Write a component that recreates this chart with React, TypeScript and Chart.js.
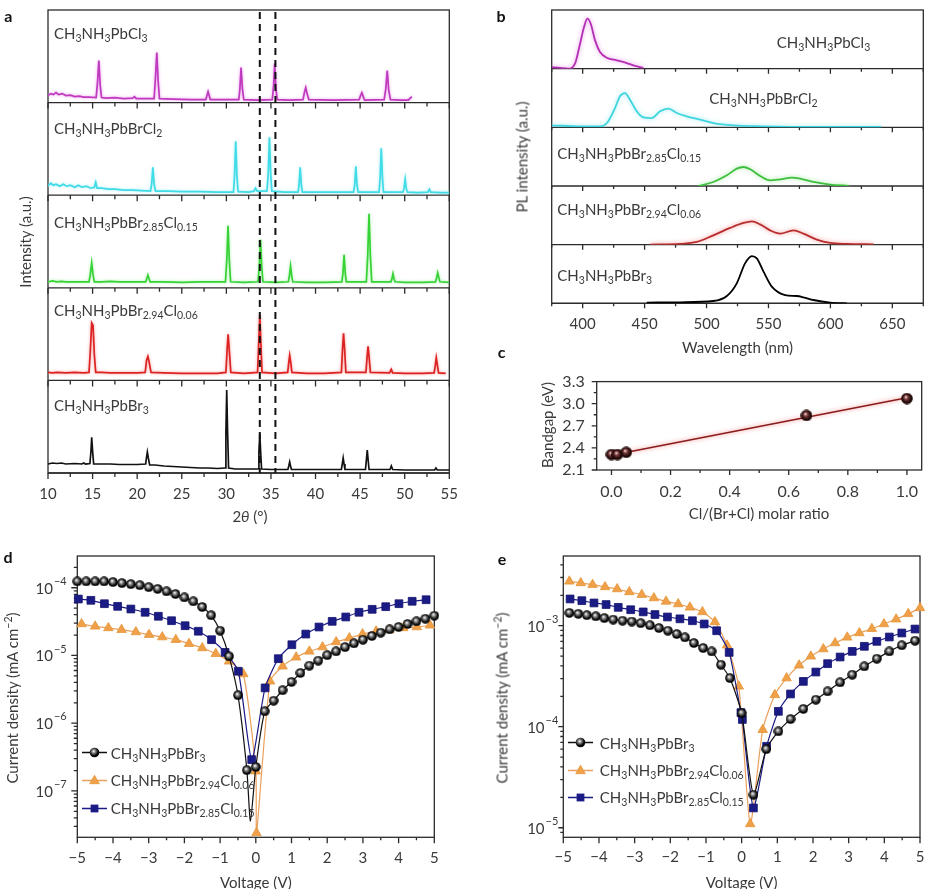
import React, { useEffect, useRef } from 'react';
import { Chart, registerables } from 'chart.js';

Chart.register(...registerables);

type P = [number, number];

// ================= Panel a : XRD (2theta, intensity a.u.) =================
const xrdRange = [10, 55];
const xrdTicks = [10, 15, 20, 25, 30, 35, 40, 45, 50, 55];
const xrdMinorTicks = [12.5, 17.5, 22.5, 27.5, 32.5, 37.5, 42.5, 47.5, 52.5];
const xrdDashed = [33.75, 35.5];
const xrdCl3: P[] = [[10,7],[10.3,9],[10.6,8],[10.9,10],[11.2,8],[11.6,9],[12,7],[12.5,7.5],[13,6],[13.5,6.5],[14,5.5],[14.6,5.5],[15.4,5],[15.55,20],[15.7,42],[15.85,18],[16,5],[16.5,4.5],[17.5,5],[18.5,4],[19.5,4.5],[19.7,6],[19.9,4],[21,4],[21.9,4],[22.05,25],[22.2,50],[22.35,22],[22.5,4],[24,3.5],[26,3],[27.7,3],[27.95,11],[28.2,3],[30,3],[31.4,3],[31.52,14],[31.65,35],[31.8,14],[31.95,3],[33.5,2.5],[35.15,3],[35.3,17],[35.42,39],[35.55,15],[35.7,3],[37,2.5],[38.6,3],[38.75,10],[38.9,15],[39.05,9],[39.25,3],[42,2.5],[44.9,3],[45.05,7],[45.2,10],[45.35,6],[45.5,2.5],[47.7,3],[47.88,14],[48.04,32],[48.2,13],[48.4,3],[49.5,2.5],[50.4,2.5],[50.8,6]];
const xrdBrCl2: P[] = [[10,9],[10.3,12],[10.6,10],[10.9,11],[11.3,9],[11.7,11],[12.1,9],[12.5,10],[13,8],[13.4,10],[13.8,8],[14.3,9],[14.8,7],[15.2,8],[15.35,13],[15.5,7],[16,7],[16.8,6],[17.5,6],[18.5,5],[19.5,5],[20.5,4.5],[21.5,4],[21.63,12],[21.76,28],[21.9,11],[22.05,4],[23.5,4],[25,3.5],[27,3.5],[29,3],[30.8,3],[30.92,20],[31.05,54],[31.18,20],[31.32,3.5],[32.5,3],[33.1,4],[33.27,7],[33.45,4],[34.55,4],[34.7,22],[34.83,58],[34.97,22],[35.1,4],[36.5,3],[38.05,3],[38.16,11],[38.28,28],[38.4,11],[38.52,3],[40,3],[42,3],[44.27,3],[44.4,11],[44.52,29],[44.64,11],[44.78,3],[46,3],[47.12,3],[47.25,18],[47.37,47],[47.5,18],[47.62,3],[49.8,3],[49.93,7],[50.05,16],[50.17,7],[50.3,3],[51.5,2.5],[52.6,3],[52.76,6],[52.92,3],[54,2.5],[55,2.5]];
const xrdBr285Cl015: P[] = [[10,6],[10.5,7],[11,6],[11.5,6.5],[12,6],[13,6],[14,6],[14.6,6],[14.75,14],[14.9,25],[15.05,13],[15.2,6],[16,6],[17,6.5],[18,6],[19,6],[20,6],[20.95,6],[21.07,9],[21.2,12.7],[21.33,9],[21.45,6],[23,6],[25,5.5],[27,6],[29,6],[29.9,6],[30.05,28],[30.19,62],[30.33,28],[30.48,6],[32,5.5],[33.55,6],[33.7,22],[33.83,48],[33.96,22],[34.1,6],[35.5,5.5],[36.95,6],[37.07,12],[37.2,22],[37.33,12],[37.45,6],[39,5.5],[41,5.5],[42.95,6],[43.08,15],[43.2,33],[43.33,15],[43.45,6],[45.7,6],[45.85,32],[46,74],[46.15,32],[46.3,6],[48.45,6],[48.57,9],[48.68,14],[48.8,9],[48.92,6],[50,5.5],[52,5.5],[53.45,6],[53.58,10],[53.7,15],[53.83,10],[53.95,6],[55,5.5]];
const xrdBr294Cl006: P[] = [[10,8],[10.5,7.5],[11,8],[12,7.5],[13,8],[14,7.5],[14.6,8],[14.75,30],[14.9,57.5],[15.05,55],[15.2,25],[15.35,8],[16,8],[17,7.5],[18,7.5],[19,7.5],[20,7.5],[20.9,8],[21.05,20],[21.2,24],[21.35,18],[21.55,8],[23,7.5],[25,7],[27,7],[29,7],[29.95,8],[30.08,30],[30.2,46],[30.33,30],[30.5,8],[32,7],[33.5,8],[33.62,35],[33.75,65],[33.88,35],[34,8],[35.5,7],[36.88,8],[37,18],[37.1,25],[37.22,18],[37.35,8],[39,7],[41,7],[42.9,8],[43.02,30],[43.14,47],[43.27,30],[43.4,8],[45.65,8],[45.77,22],[45.89,34],[46.02,22],[46.15,8],[48.3,7.5],[48.49,11],[48.65,7.5],[50,7],[52,7],[53.3,7.5],[53.43,15],[53.54,22.7],[53.67,15],[53.8,7.5],[54.6,7]];
const xrdBr3: P[] = [[10,9],[10.5,10],[11,9.5],[11.5,10],[12,9],[13,9.5],[13.8,9],[14,10],[14.2,9],[14.7,9.5],[14.82,22],[14.9,35.7],[15,22],[15.12,9],[16,9],[17,9],[18,8.5],[19,8.5],[20,8.5],[20.95,9],[21.05,16],[21.14,21],[21.25,15],[21.4,8],[22,8],[23,7],[24,6.5],[25,6],[26,5.5],[27,5],[28,5],[29,4.5],[29.85,5],[29.95,40],[30.04,83],[30.14,40],[30.25,5],[31,4],[32,4],[33.55,4],[33.65,20],[33.75,39],[33.85,20],[33.95,4],[35,3.5],[36.9,3.5],[37,7],[37.1,11],[37.2,7],[37.3,3.5],[39,3.5],[41,3.5],[42.9,3.5],[43,9],[43.1,15],[43.2,9],[43.3,3.5],[45.6,3.5],[45.7,13],[45.8,23],[45.9,13],[46,3.5],[48.35,3.5],[48.5,7],[48.65,3.5],[50,3],[52,3],[53.35,3],[53.5,5],[53.65,3],[55,3]];
const xrdMax = 92.6;

// ================= Panel b : PL (wavelength nm, intensity a.u.) =================
const plRange = [375, 675];
const plTicks = [400, 450, 500, 550, 600, 650];
const plMinorTicks = [375, 425, 475, 525, 575, 625, 675];
const plCl3: P[] = [[375,1.6],[381.7,0.7],[388.4,0],[393.8,5],[397.9,25],[401.1,41.6],[403.8,50],[406.5,45],[410,28.3],[414,16.7],[419.4,11],[427.5,8.3],[435.6,5.6],[440.9,3.3],[449,0.7]];
const plBrCl2: P[] = [[375,2],[397.9,1],[414,1],[419.6,4.3],[426.1,19.3],[430.1,31],[434.2,34.3],[438.2,27.7],[443.6,16],[449,10],[455.8,9.3],[462.5,16],[469.2,18.7],[476,14.3],[484,11],[494.8,7.7],[505.5,4.3],[521.7,2],[545.9,1],[586.3,0.3],[641,0.3]];
const plBr285Cl015: P[] = [[493.4,0],[505.5,4],[516.4,10.7],[524.4,17.3],[529.8,19],[535.2,16.7],[543.3,10],[551.3,5.7],[559.4,6.7],[568.9,8.3],[575.6,7.3],[586.3,4],[599.8,1.3],[615,0.2]];
const plBr294Cl006: P[] = [[454.4,0],[478.6,0.7],[492.1,2.7],[505.5,9.3],[519,16.7],[529.8,21.7],[536.6,23.3],[543.3,20.3],[551.3,14.3],[559.4,11],[570.2,14.3],[578.2,11],[589,5],[599.8,1.7],[613.3,0.7],[634.8,0.3]];
const plBr3: P[] = [[451.7,0.7],[478.6,1],[505.5,2.3],[516.4,7.3],[524.4,20],[531.1,40],[536.6,47.3],[540.6,45],[546,31.7],[552.7,16.7],[563.5,8.3],[572.9,7.3],[578.2,6],[586.3,3.3],[599.8,0.7],[613.3,0]];
const plMax = 58.7;

// ================= Panel c : bandgap =================
const bgRatio = [0, 0.02, 0.05, 0.66, 1.0];
const bgGap = [2.31, 2.31, 2.34, 2.84, 3.07];
const bgFitX = [0, 1.0];
const bgFitY = [2.30, 3.08];
const bgXRange = [-0.05, 1.05];
const bgYRange = [2.1, 3.3];
const bgXTicks = [0, 0.2, 0.4, 0.6, 0.8, 1.0];
const bgXMinorTicks = [0.1, 0.3, 0.5, 0.7, 0.9];
const bgYTicks = [2.1, 2.4, 2.7, 3.0, 3.3];
const bgYMinorTicks = [2.25, 2.55, 2.85, 3.15];

// ================= Panels d, e : I-V (V, mA cm^-2) =================
const ivXRange = [-5, 5];
const ivTicks = [-5, -4, -3, -2, -1, 0, 1, 2, 3, 4, 5];
const ivMinorTicks = [-4.5, -3.5, -2.5, -1.5, -0.5, 0.5, 1.5, 2.5, 3.5, 4.5];
const dYRange = [2.07e-8, 2.94e-4];
const dYTicks = [1e-7, 1e-6, 1e-5, 1e-4];
const eYRange = [8.04e-6, 4.9e-3];
const eYTicks = [1e-5, 1e-4, 1e-3];

const dBr3: P[] = [[-5,1.24e-4],[-4.75,1.24e-4],[-4.5,1.24e-4],[-4.25,1.24e-4],[-4,1.21e-4],[-3.75,1.17e-4],[-3.5,1.13e-4],[-3.25,1.09e-4],[-3,1.02e-4],[-2.75,9.6e-5],[-2.5,8.85e-5],[-2.25,8.07e-5],[-2,7.2e-5],[-1.75,6.3e-5],[-1.5,5.2e-5],[-1.25,3.92e-5],[-1,2.32e-5],[-0.75,9.7e-6],[-0.5,2.59e-6],[-0.25,2.03e-7],[-0.15,3.6e-8],[0,2.26e-7],[0.25,1.5e-6],[0.5,2.15e-6],[0.75,3.07e-6],[1,4.07e-6],[1.25,5.52e-6],[1.5,7.08e-6],[1.75,8.38e-6],[2,1.01e-5],[2.25,1.15e-5],[2.5,1.33e-5],[2.75,1.51e-5],[3,1.71e-5],[3.25,1.94e-5],[3.5,2.17e-5],[3.75,2.43e-5],[4,2.63e-5],[4.25,2.91e-5],[4.5,3.19e-5],[4.75,3.49e-5],[5,3.86e-5]];
const dBr3CurveOnly = [20];
const dBr294Cl006: P[] = [[-4.88,2.92e-5],[-4.5,2.69e-5],[-4.13,2.55e-5],[-3.76,2.4e-5],[-3.36,2.22e-5],[-2.99,2.03e-5],[-2.62,1.87e-5],[-2.24,1.71e-5],[-1.87,1.49e-5],[-1.5,1.29e-5],[-1.12,1.06e-5],[-0.75,8.2e-6],[-0.35,5.33e-6],[0,1.96e-7],[0.02,2.4e-8],[0.4,4.16e-6],[0.75,6.92e-6],[1.13,9.4e-6],[1.5,1.15e-5],[1.87,1.33e-5],[2.25,1.58e-5],[2.62,1.81e-5],[2.99,2.07e-5],[3.37,2.28e-5],[3.74,2.4e-5],[4.13,2.55e-5],[4.51,2.63e-5],[4.88,2.79e-5]];
const dBr285Cl015: P[] = [[-4.97,6.81e-5],[-4.62,6.52e-5],[-4.24,5.81e-5],[-3.87,5.31e-5],[-3.5,4.85e-5],[-3.1,4.34e-5],[-2.73,3.79e-5],[-2.36,3.26e-5],[-1.98,2.75e-5],[-1.61,2.28e-5],[-1.24,1.71e-5],[-0.86,1.11e-5],[-0.49,5.85e-6],[-0.115,2.9e-7],[0.26,3.32e-6],[0.63,8.97e-6],[1.01,1.44e-5],[1.4,2.07e-5],[1.77,2.63e-5],[2.14,3.19e-5],[2.52,3.7e-5],[2.89,4.34e-5],[3.26,4.8e-5],[3.64,5.25e-5],[4.01,5.81e-5],[4.38,6.31e-5],[4.77,6.65e-5]];

const eBr3: P[] = [[-4.83,1.34e-3],[-4.58,1.31e-3],[-4.34,1.27e-3],[-4.09,1.24e-3],[-3.85,1.19e-3],[-3.6,1.15e-3],[-3.34,1.12e-3],[-3.08,1.1e-3],[-2.83,1.06e-3],[-2.57,1.01e-3],[-2.32,9.48e-4],[-2.07,8.92e-4],[-1.82,8.27e-4],[-1.59,7.67e-4],[-1.34,6.74e-4],[-1.08,6.01e-4],[-0.84,5.57e-4],[-0.58,4.11e-4],[-0.33,3.03e-4],[0,1.36e-4],[0.33,2.12e-5],[0.69,6.0e-5],[1.03,9.0e-5],[1.37,1.19e-4],[1.73,1.5e-4],[2.08,1.85e-4],[2.41,2.24e-4],[2.76,2.75e-4],[3.1,3.27e-4],[3.44,3.96e-4],[3.79,4.71e-4],[4.14,5.57e-4],[4.49,6.4e-4],[4.86,7.1e-4]];
const eBr294Cl006: P[] = [[-4.83,2.75e-3],[-4.51,2.65e-3],[-4.18,2.55e-3],[-3.83,2.42e-3],[-3.49,2.31e-3],[-3.15,2.16e-3],[-2.8,2.03e-3],[-2.46,1.88e-3],[-2.12,1.74e-3],[-1.78,1.64e-3],[-1.45,1.52e-3],[-1.1,1.37e-3],[-0.75,1.09e-3],[-0.41,6.4e-4],[-0.08,2.51e-4],[0.24,1.09e-5],[0.59,9.33e-5],[0.93,2.07e-4],[1.26,3.03e-4],[1.61,4.06e-4],[1.94,4.98e-4],[2.29,5.88e-4],[2.62,6.74e-4],[2.96,7.67e-4],[3.3,8.47e-4],[3.65,9.34e-4],[3.99,1.04e-3],[4.33,1.16e-3],[4.67,1.31e-3],[5,1.5e-3]];
const eBr285Cl015: P[] = [[-4.81,1.84e-3],[-4.48,1.77e-3],[-4.14,1.68e-3],[-3.8,1.62e-3],[-3.46,1.52e-3],[-3.11,1.44e-3],[-2.76,1.37e-3],[-2.43,1.29e-3],[-2.08,1.22e-3],[-1.73,1.17e-3],[-1.38,1.12e-3],[-1.05,1.04e-3],[-0.7,8.92e-4],[-0.35,5.44e-4],[-0.02,1.38e-4],[0.02,1.18e-4],[0.33,1.57e-5],[0.7,6.4e-5],[1.03,1.42e-4],[1.37,2.11e-4],[1.73,2.81e-4],[2.08,3.48e-4],[2.41,4.21e-4],[2.76,4.9e-4],[3.1,5.57e-4],[3.44,6.25e-4],[3.79,7.0e-4],[4.14,7.73e-4],[4.49,8.47e-4],[4.86,9.27e-4]];

const compounds = ['CH3NH3PbCl3', 'CH3NH3PbBrCl2', 'CH3NH3PbBr2.85Cl0.15', 'CH3NH3PbBr2.94Cl0.06', 'CH3NH3PbBr3'];
const ivNames = ['CH3NH3PbBr3', 'CH3NH3PbBr2.94Cl0.06', 'CH3NH3PbBr2.85Cl0.15'];

// ================= styling =================
const FONT = 'Lato, "Open Sans", sans-serif';
const TXT = '#3a3a3a';
const AX = '#2b2b2b';
const ORANGE = '#efa048';
const NAVY = '#1b1b86';

Chart.defaults.font.family = FONT;

function sphere(d: number, hi: string, mid: string, dark: string) {
  const c = document.createElement('canvas');
  c.width = d; c.height = d;
  const g = c.getContext('2d')!;
  const r = d / 2;
  const grad = g.createRadialGradient(r * 0.8, r * 0.72, r * 0.05, r, r, r);
  grad.addColorStop(0, hi);
  grad.addColorStop(0.3, mid);
  grad.addColorStop(0.75, dark);
  grad.addColorStop(1, dark);
  g.fillStyle = grad;
  g.beginPath(); g.arc(r, r, r - 0.2, 0, Math.PI * 2); g.fill();
  return c;
}

function linX(range: number[], majors: number[], height: number, size: number, fmt?: (v: number) => string, padding = 12) {
  return {
    type: 'linear', position: 'bottom', min: range[0], max: range[1], offset: false,
    grid: { display: false, drawTicks: false }, border: { display: false },
    ticks: { autoSkip: false, maxRotation: 0, padding, color: TXT, font: { family: FONT, size },
      callback: (v: any) => (fmt ? fmt(Number(v)) : String(v)) },
    afterBuildTicks: (s: any) => { s.ticks = majors.map((v) => ({ value: v })); },
    afterFit: (s: any) => { s.height = height; },
  };
}

function stackedY(ids: string[], max: number, width: number) {
  const out: Record<string, any> = {};
  ids.forEach((id, i) => {
    out[id] = {
      type: 'linear', position: 'left', stack: 'panel', stackWeight: 1, weight: ids.length - i,
      min: 0, max,
      grid: { display: false, drawTicks: false }, border: { display: false },
      ticks: { display: false },
      afterFit: (s: any) => { s.width = width; },
    };
  });
  return out;
}

const glowPlugin = (glows: (string | null)[], blur: number) => ({
  id: 'glow',
  beforeDatasetDraw(chart: any, args: any) {
    chart.ctx.save();
    const g = glows[args.index];
    if (g) { chart.ctx.shadowColor = g; chart.ctx.shadowBlur = blur; }
  },
  afterDatasetDraw(chart: any) { chart.ctx.restore(); },
});

function stackFramePlugin(ids: string[], majors: number[], minors: number[], majLen: number, minLen: number, dashed: number[]) {
  return {
    id: 'stackframe',
    beforeDatasetsDraw(chart: any) {
      const { ctx, chartArea: ca, scales } = chart;
      const x = scales.x;
      ctx.save();
      ctx.strokeStyle = AX; ctx.lineWidth = 1.3;
      ctx.strokeRect(ca.left, ca.top, ca.right - ca.left, ca.bottom - ca.top);
      ctx.beginPath();
      ids.forEach((id) => {
        const yb = scales[id].bottom;
        ctx.moveTo(ca.left, yb); ctx.lineTo(ca.right, yb);
        majors.forEach((v) => { const p = x.getPixelForValue(v); ctx.moveTo(p, yb); ctx.lineTo(p, yb + majLen); });
        minors.forEach((v) => { const p = x.getPixelForValue(v); ctx.moveTo(p, yb); ctx.lineTo(p, yb + minLen); });
      });
      ctx.stroke();
      ctx.restore();
    },
    afterDatasetsDraw(chart: any) {
      if (!dashed.length) return;
      const { ctx, chartArea: ca, scales } = chart;
      ctx.save();
      ctx.strokeStyle = '#111'; ctx.lineWidth = 2; ctx.setLineDash([7, 5]);
      dashed.forEach((v) => {
        const p = scales.x.getPixelForValue(v);
        ctx.beginPath(); ctx.moveTo(p, ca.top + 2); ctx.lineTo(p, ca.bottom); ctx.stroke();
      });
      ctx.restore();
    },
  };
}

function logMinors(min: number, max: number) {
  const out: number[] = [];
  for (let e = Math.floor(Math.log10(min)); e <= Math.floor(Math.log10(max)); e++) {
    for (let k = 2; k <= 9; k++) { const v = k * Math.pow(10, e); if (v >= min && v <= max) out.push(v); }
  }
  return out;
}

function boxPlugin(o: { xMaj: number[]; xMin: number[]; yMaj: number[]; yMin: number[]; xLen: number[]; yLen: number[]; log?: { right: number; size: number } }) {
  return {
    id: 'box',
    beforeDatasetsDraw(chart: any) {
      const { ctx, chartArea: ca, scales } = chart;
      const x = scales.x, y = scales.y;
      ctx.save();
      ctx.strokeStyle = AX; ctx.lineWidth = 1.3;
      ctx.strokeRect(ca.left, ca.top, ca.right - ca.left, ca.bottom - ca.top);
      ctx.beginPath();
      o.xMaj.forEach((v) => { const p = x.getPixelForValue(v); ctx.moveTo(p, ca.bottom); ctx.lineTo(p, ca.bottom + o.xLen[0]); });
      o.xMin.forEach((v) => { const p = x.getPixelForValue(v); ctx.moveTo(p, ca.bottom); ctx.lineTo(p, ca.bottom + o.xLen[1]); });
      o.yMaj.forEach((v) => { const p = y.getPixelForValue(v); ctx.moveTo(ca.left, p); ctx.lineTo(ca.left - o.yLen[0], p); });
      o.yMin.forEach((v) => { const p = y.getPixelForValue(v); ctx.moveTo(ca.left, p); ctx.lineTo(ca.left - o.yLen[1], p); });
      ctx.stroke();
      if (o.log) {
        const sz = o.log.size, ssz = Math.round(sz * 0.72);
        ctx.fillStyle = TXT; ctx.textBaseline = 'middle'; ctx.textAlign = 'left';
        o.yMaj.forEach((v) => {
          const p = y.getPixelForValue(v);
          const ex = Math.round(Math.log10(v));
          const sup = (ex < 0 ? '\u2212' : '') + Math.abs(ex);
          ctx.font = `${ssz}px ${FONT}`; const w2 = ctx.measureText(sup).width;
          ctx.font = `${sz}px ${FONT}`; const w1 = ctx.measureText('10').width;
          ctx.fillText('10', o.log!.right - w2 - w1 - 1, p + 1);
          ctx.font = `${ssz}px ${FONT}`;
          ctx.fillText(sup, o.log!.right - w2, p - sz * 0.42);
        });
      }
      ctx.restore();
    },
  };
}

const baseOpts = {
  responsive: false, animation: false as const, devicePixelRatio: 1,
  plugins: { legend: { display: false }, tooltip: { enabled: false }, title: { display: false } },
  events: [] as any[],
};

function buildXRD(cv: HTMLCanvasElement) {
  const ids = ['y0', 'y1', 'y2', 'y3', 'y4'];
  const series = [xrdCl3, xrdBrCl2, xrdBr285Cl015, xrdBr294Cl006, xrdBr3];
  const colors = ['#c03ac0', '#3fdbe6', '#36d236', '#dc2323', '#111111'];
  const glows = ['rgba(230,130,230,0.8)', 'rgba(150,235,245,0.9)', 'rgba(140,235,140,0.8)', 'rgba(245,130,130,0.8)', null];
  return new Chart(cv, {
    type: 'line',
    data: { datasets: series.map((d, i) => ({ data: d as any, yAxisID: ids[i], xAxisID: 'x', borderColor: colors[i], borderWidth: 1.7, pointRadius: 0, tension: 0, fill: false })) },
    options: {
      ...baseOpts,
      layout: { padding: { left: 0, top: 10, right: 18, bottom: 0 }, autoPadding: false },
      scales: { x: linX(xrdRange, xrdTicks, 57, 15), ...stackedY(ids, xrdMax, 48) } as any,
    } as any,
    plugins: [stackFramePlugin(ids, xrdTicks, xrdMinorTicks, 6, 4, xrdDashed), glowPlugin(glows, 3)],
  });
}

function buildPL(cv: HTMLCanvasElement) {
  const ids = ['y0', 'y1', 'y2', 'y3', 'y4'];
  const series = [plCl3, plBrCl2, plBr285Cl015, plBr294Cl006, plBr3];
  const colors = ['#b42fb4', '#3fd5df', '#3fbf3f', '#b82e2e', '#000000'];
  const glows = ['rgba(225,120,225,0.8)', 'rgba(140,230,240,0.9)', 'rgba(130,225,130,0.8)', 'rgba(245,130,130,0.9)', null];
  return new Chart(cv, {
    type: 'line',
    data: { datasets: series.map((d, i) => ({ data: d as any, yAxisID: ids[i], xAxisID: 'x', borderColor: colors[i], borderWidth: 1.8, pointRadius: 0, cubicInterpolationMode: 'monotone', fill: false })) },
    options: {
      ...baseOpts,
      layout: { padding: { left: 0, top: 10, right: 13.7, bottom: 0 }, autoPadding: false },
      scales: { x: linX(plRange, plTicks, 56.7, 15), ...stackedY(ids, plMax, 71.7) } as any,
    } as any,
    plugins: [stackFramePlugin(ids, plTicks, plMinorTicks, 5, 3, []), glowPlugin(glows, 4)],
  });
}

function buildBG(cv: HTMLCanvasElement) {
  const sph = sphere(12, '#f7e2e2', '#7a3838', '#1c0606');
  return new Chart(cv, {
    type: 'line',
    data: {
      datasets: [
        { data: bgRatio.map((r, i) => ({ x: r, y: bgGap[i] })), showLine: false, pointStyle: sph as any, pointRadius: 6, clip: false as any },
        { data: bgFitX.map((r, i) => ({ x: r, y: bgFitY[i] })), borderColor: '#8a1c1c', borderWidth: 1.6, pointRadius: 0 },
      ] as any,
    },
    options: {
      ...baseOpts,
      layout: { padding: { left: 0, top: 17.7, right: 15.3, bottom: 0 }, autoPadding: false },
      scales: {
        x: linX(bgXRange, bgXTicks, 60, 16, (v) => v.toFixed(1)),
        y: {
          type: 'linear', position: 'left', min: bgYRange[0], max: bgYRange[1],
          grid: { display: false, drawTicks: false }, border: { display: false },
          ticks: { autoSkip: false, padding: 12, color: TXT, font: { family: FONT, size: 16 }, callback: (v: any) => Number(v).toFixed(1) },
          afterBuildTicks: (s: any) => { s.ticks = bgYTicks.map((v) => ({ value: v })); },
          afterFit: (s: any) => { s.width = 116.7; },
        },
      } as any,
    } as any,
    plugins: [boxPlugin({ xMaj: bgXTicks, xMin: bgXMinorTicks, yMaj: bgYTicks, yMin: bgYMinorTicks, xLen: [5, 3], yLen: [5, 3] }), glowPlugin([null, 'rgba(245,120,120,0.9)'], 4)],
  });
}

function buildIV(cv: HTMLCanvasElement, which: 'd' | 'e') {
  const black = which === 'd' ? dBr3 : eBr3;
  const orange = which === 'd' ? dBr294Cl006 : eBr294Cl006;
  const blue = which === 'd' ? dBr285Cl015 : eBr285Cl015;
  const noMark = which === 'd' ? dBr3CurveOnly : [];
  const yr = which === 'd' ? dYRange : eYRange;
  const yt = which === 'd' ? dYTicks : eYTicks;
  const yW = which === 'd' ? 77.3 : 93.3;
  const padR = which === 'd' ? 35.7 : 17;
  const sph = sphere(10, '#ffffff', '#8a8a8a', '#050505');
  const fmt = (v: number) => (v < 0 ? '\u2212' + Math.abs(v) : String(v));
  return new Chart(cv, {
    type: 'line',
    data: {
      datasets: [
        { data: black as any, borderColor: '#111', borderWidth: 1.2, pointStyle: sph as any, pointRadius: (c: any) => (noMark.includes(c.dataIndex) ? 0 : 5), tension: 0.2, clip: false as any },
        { data: blue as any, borderColor: NAVY, borderWidth: 1.2, pointStyle: 'rect', pointRadius: 5.5, pointBackgroundColor: NAVY, pointBorderColor: '#14146e', pointBorderWidth: 0.8, tension: 0.2, clip: false as any },
        { data: orange as any, borderColor: '#eaa05a', borderWidth: 1.2, pointStyle: 'triangle', pointRadius: 5.5, pointBackgroundColor: ORANGE, pointBorderColor: '#e59538', pointBorderWidth: 0.8, tension: 0.2, clip: false as any },
      ] as any,
    },
    options: {
      ...baseOpts,
      layout: { padding: { left: 0, top: 16, right: padR, bottom: 0 }, autoPadding: false },
      scales: {
        x: linX(ivXRange, ivTicks, 51.7, 15, fmt, which === 'd' ? 12 : 10.5),
        y: {
          type: 'logarithmic', position: 'left', min: yr[0], max: yr[1],
          grid: { display: false, drawTicks: false }, border: { display: false },
          ticks: { display: false },
          afterBuildTicks: (s: any) => { s.ticks = yt.map((v) => ({ value: v })); },
          afterFit: (s: any) => { s.width = yW; },
        },
      } as any,
    } as any,
    plugins: [boxPlugin({
      xMaj: ivTicks, xMin: ivMinorTicks, yMaj: yt, yMin: logMinors(yr[0], yr[1]),
      xLen: [6, 3], yLen: which === 'd' ? [6, 3.5] : [5, 3],
      log: { right: which === 'd' ? 66.7 : 88.3, size: 15 },
    })],
  });
}

// ================= text helpers =================
const subStyle: React.CSSProperties = { fontSize: '0.7em', verticalAlign: '-0.32em', lineHeight: 0 };

function Chem({ f }: { f: string }) {
  const parts = f.split(/(\d+(?:\.\d+)?)/);
  return <>{parts.map((p, i) => (i % 2 === 1 ? <sub key={i} style={subStyle}>{p}</sub> : <span key={i}>{p}</span>))}</>;
}

function T({ x, y, align = 'left', rot = false, size = 15, bold = false, children }: any) {
  let transform = align === 'left' ? 'translate(0,-50%)' : align === 'center' ? 'translate(-50%,-50%)' : 'translate(-100%,-50%)';
  if (rot) transform = 'translate(-50%,-50%) rotate(-90deg)';
  return (
    <div style={{ position: 'absolute', left: x, top: y, transform, fontSize: size, fontWeight: bold ? 700 : 400, lineHeight: 1, whiteSpace: 'nowrap', color: bold ? '#111' : TXT }}>
      {children}
    </div>
  );
}

function Marker({ kind, id }: { kind: number; id: string }) {
  const color = kind === 0 ? '#111' : kind === 1 ? '#eaa05a' : NAVY;
  return (
    <svg width={25} height={12} style={{ display: 'block' }}>
      <defs>
        <radialGradient id={id} cx="0.42" cy="0.38" r="0.6">
          <stop offset="0" stopColor="#ffffff" />
          <stop offset="0.3" stopColor="#8a8a8a" />
          <stop offset="0.75" stopColor="#050505" />
          <stop offset="1" stopColor="#050505" />
        </radialGradient>
      </defs>
      <line x1={0} x2={25} y1={6} y2={6} stroke={color} strokeWidth={1.3} />
      {kind === 0 && <circle cx={12.5} cy={6} r={4.8} fill={`url(#${id})`} />}
      {kind === 1 && <polygon points="12.5,0.8 17.3,9.2 7.7,9.2" fill={ORANGE} stroke="#e59538" strokeWidth={0.8} />}
      {kind === 2 && <rect x={8.6} y={2.1} width={7.8} height={7.8} fill={NAVY} />}
    </svg>
  );
}

function Legend({ x, ys, gap, pref }: { x: number; ys: number[]; gap: number; pref: string }) {
  return (
    <>
      {ivNames.map((n, i) => (
        <div key={n} style={{ position: 'absolute', left: x, top: ys[i], transform: 'translate(0,-50%)', display: 'flex', alignItems: 'center', whiteSpace: 'nowrap', fontSize: 15, lineHeight: 1, color: TXT }}>
          <Marker kind={i} id={`${pref}${i}`} />
          <span style={{ marginLeft: gap }}><Chem f={n} /></span>
        </div>
      ))}
    </>
  );
}

export default function App() {
  const rA = useRef<HTMLCanvasElement>(null);
  const rB = useRef<HTMLCanvasElement>(null);
  const rC = useRef<HTMLCanvasElement>(null);
  const rD = useRef<HTMLCanvasElement>(null);
  const rE = useRef<HTMLCanvasElement>(null);

  useEffect(() => {
    const charts = [buildXRD(rA.current!), buildPL(rB.current!), buildBG(rC.current!), buildIV(rD.current!, 'd'), buildIV(rE.current!, 'e')];
    let alive = true;
    const fonts: any = (document as any).fonts;
    if (fonts && fonts.load) {
      Promise.all([fonts.load(`15px ${FONT}`), fonts.load(`bold 15px ${FONT}`)]).then(() => { if (alive) charts.forEach((c) => c.update()); }).catch(() => {});
    }
    return () => { alive = false; charts.forEach((c) => c.destroy()); };
  }, []);

  const cv = (left: number, top: number): React.CSSProperties => ({ position: 'absolute', left, top });
  const aLabelY = [33.3, 128, 222, 310, 405];
  const bLabels = [[776.7, 41.7], [709.3, 98.3], [557.3, 152.7], [557.3, 209.3], [557.3, 275]];

  return (
    <div style={{ position: 'absolute', left: 0, top: 0, width: 937, height: 889, background: '#fff', fontFamily: FONT, overflow: 'hidden' }}>
      <canvas ref={rA} width={470} height={530} style={cv(0, 0)} />
      <canvas ref={rB} width={457} height={360} style={cv(480, 0)} />
      <canvas ref={rC} width={457} height={170} style={cv(480, 360)} />
      <canvas ref={rD} width={470} height={349} style={cv(0, 540)} />
      <canvas ref={rE} width={467} height={349} style={cv(470, 540)} />

      {/* panel letters */}
      <T x={8.3} y={16} align="center" bold size={16}>a</T>
      <T x={501} y={15.5} align="center" bold size={16}>b</T>
      <T x={501.5} y={351.7} align="center" bold size={16}>c</T>
      <T x={8} y={557} align="center" bold size={16}>d</T>
      <T x={502} y={559} align="center" bold size={16}>e</T>

      {/* panel a */}
      {compounds.map((c, i) => (<T key={c} x={54} y={aLabelY[i]}><Chem f={c} /></T>))}
      <T x={25} y={242} rot>Intensity (a.u.)</T>
      <T x={250} y={516} align="center">2<i>θ</i> (°)</T>

      {/* panel b */}
      {compounds.map((c, i) => (<T key={c} x={bLabels[i][0]} y={bLabels[i][1]}><Chem f={c} /></T>))}
      <T x={521.7} y={157} rot>PL intensity (a.u.)</T>
      <T x={737.5} y={347} align="center">Wavelength (nm)</T>

      {/* panel c */}
      <T x={546.7} y={425} rot>Bandgap (eV)</T>
      <T x={759} y={513} align="center">Cl/(Br+Cl) molar ratio</T>

      {/* panel d */}
      <Legend x={81.7} ys={[752.7, 780, 808.3]} gap={4} pref="ld" />
      <T x={11.7} y={698} rot>Current density (mA cm<sup style={{ fontSize: '0.7em', lineHeight: 0 }}>−2</sup>)</T>
      <T x={255.8} y={881.7} align="center">Voltage (V)</T>

      {/* panel e */}
      <Legend x={568.3} ys={[742.7, 770, 797.3]} gap={6.5} pref="le" />
      <T x={501.7} y={698} rot>Current density (mA cm<sup style={{ fontSize: '0.7em', lineHeight: 0 }}>−2</sup>)</T>
      <T x={741.7} y={881.7} align="center">Voltage (V)</T>
    </div>
  );
}
